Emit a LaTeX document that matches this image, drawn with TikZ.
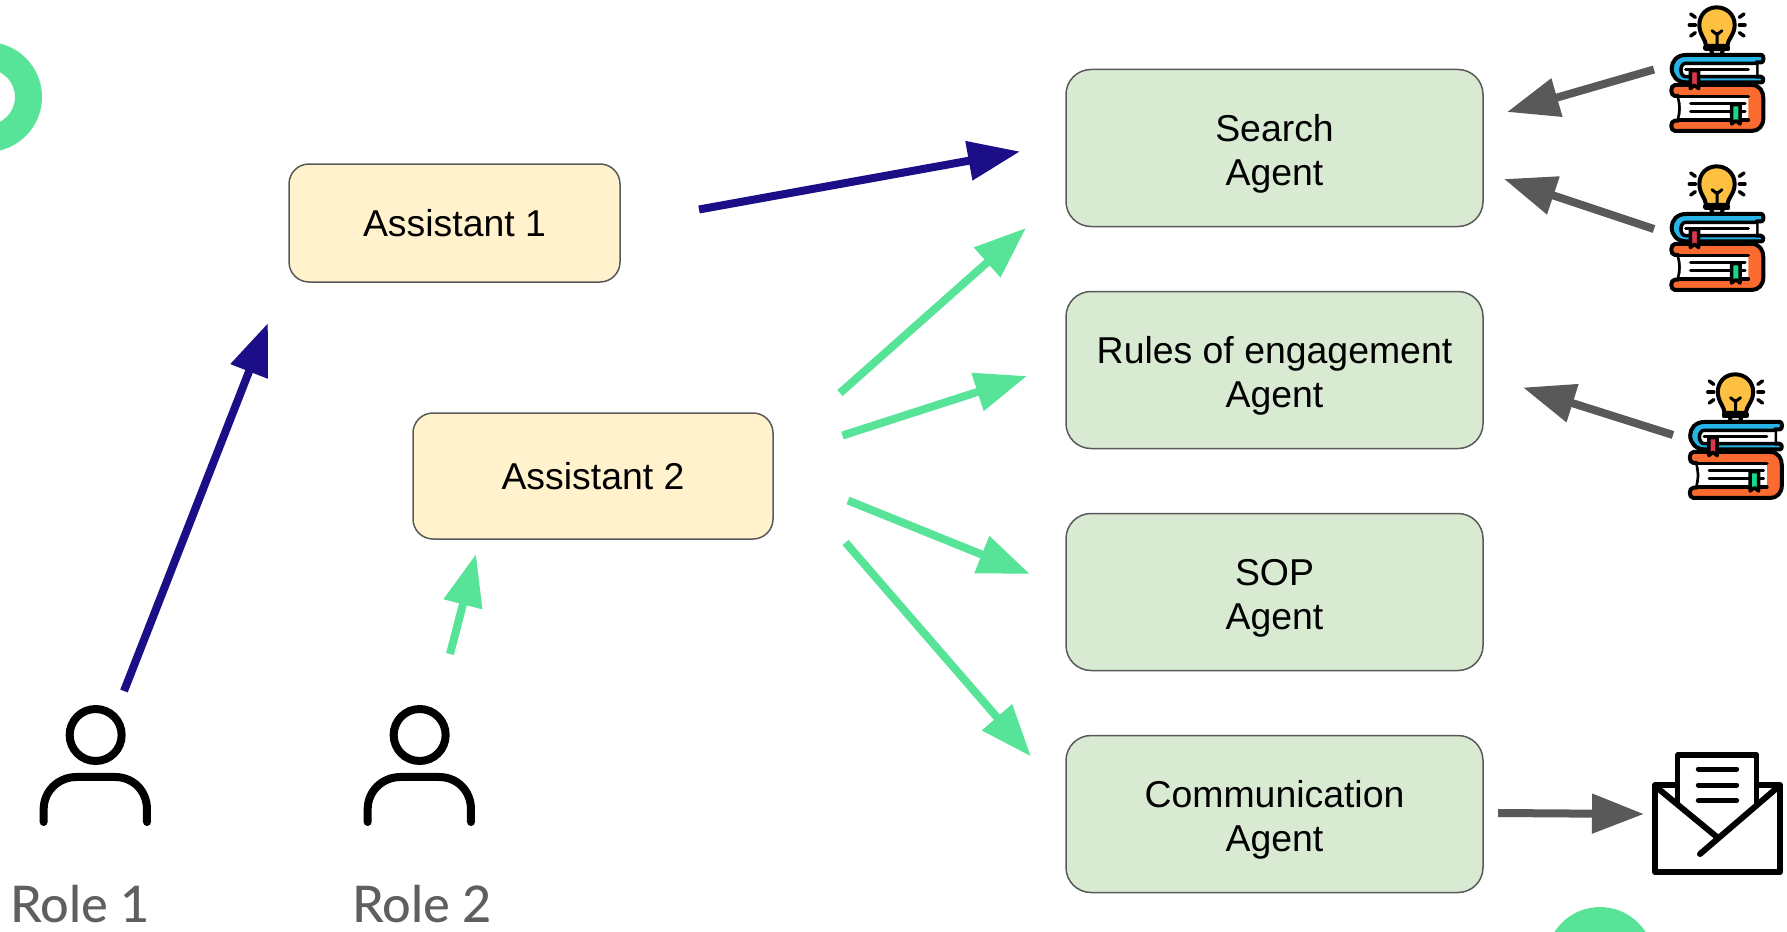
\documentclass[tikz,border=0pt]{standalone}
\usepackage{fontspec}
\setmainfont{Liberation Sans}
\newfontfamily\rolefont{Lato Medium}
\usetikzlibrary{arrows.meta}
\definecolor{mint}{HTML}{58E498}
\definecolor{navyarrow}{HTML}{1B0E87}
\definecolor{greyarrow}{HTML}{595959}
\definecolor{boxgreen}{HTML}{D9EAD3}
\definecolor{boxyellow}{HTML}{FFF2CC}
\definecolor{rolegrey}{HTML}{5F5F5F}
\definecolor{bulby}{HTML}{FDC040}
\definecolor{bookblue}{HTML}{27B3E6}
\definecolor{bookorange}{HTML}{FB6B30}
\definecolor{markred}{HTML}{D8384F}
\definecolor{markgreen}{HTML}{17D98B}
\definecolor{collar}{HTML}{C9D3DE}
\newcommand{\toplift}{\rule{0pt}{37.8pt}}
\tikzset{
  x=1pt,y=-1pt,
  agentbox/.style={draw=greyarrow,line width=1.5pt,rounded corners=25pt,fill=boxgreen,align=center,
    minimum width=417pt,minimum height=157pt,inner sep=0pt,font=\fontsize{37.4pt}{44pt}\selectfont},
  assistbox/.style={draw=greyarrow,line width=1.5pt,rounded corners=20pt,fill=boxyellow,align=center,
    inner sep=0pt,font=\fontsize{37.4pt}{44pt}\selectfont},
  rolelabel/.style={text=rolegrey,inner sep=0pt,anchor=base west,font=\rolefont\fontsize{50.5pt}{52pt}\selectfont},
  flow/.style={line width=8pt},
  navyflow/.style={flow,draw=navyarrow,-{Triangle[length=52pt,width=38pt,fill=navyarrow]}},
  mintflow/.style={flow,draw=mint,-{Triangle[length=52pt,width=38pt,fill=mint]}},
  greyflow/.style={flow,draw=greyarrow,-{Triangle[length=52pt,width=38pt,fill=greyarrow]}},
  iconline/.style={draw=black,line width=4pt,line cap=round,line join=round},
}
\newcommand{\booksicon}[2]{%
\begin{scope}[shift={(#1,#2)},x=.3333pt,y=-.3333pt]
  % bulb rays
  \foreach \ax/\ay/\bx/\by in {212/42/226/52,208/75/226/75,212/108/226/98,372/42/358/52,375/75/358/75,372/108/358/98}
    \draw[iconline,line width=3.5pt] (\ax,\ay) -- (\bx,\by);
  % collar and stem
  \draw[iconline,fill=collar] (272,145) -- (310,145) -- (303,170) -- (279,170) -- cycle;
  % bulb
  \draw[iconline,fill=bulby] (258,138) .. controls (258,118) and (238,105) .. (238,75)
     .. controls (238,42) and (262,22) .. (290,22) .. controls (318,22) and (344,42) .. (344,75)
     .. controls (344,105) and (322,118) .. (322,138) -- cycle;
  \draw[iconline,line width=3pt] (291,140) -- (291,100) (276,92) -- (291,104) -- (306,92);
  \draw[iconline,line width=3.5pt,fill=collar] (255,140) -- (325,140) -- (325,147) -- (255,147) -- cycle;
  % blue book
  \draw[iconline,fill=bookblue] (425,165) -- (197,165) .. controls (170,165) and (155,185) .. (155,205)
     .. controls (155,228) and (172,247) .. (197,247) -- (425,247)
     .. controls (432,247) and (432,230) .. (422,230) -- (410,230) -- (410,187) -- (425,187)
     .. controls (432,187) and (432,165) .. (425,165) -- cycle;
  \fill[white] (197,190) .. controls (178,190) and (178,230) .. (197,230) -- (408,230) -- (408,190) -- cycle;
  \draw[iconline,line width=3.5pt] (197,190) .. controls (178,190) and (178,230) .. (197,230) -- (408,230) (197,190) -- (408,190);
  \draw[iconline,line width=3pt] (197,209) -- (385,209);
  % orange book
  \draw[iconline,fill=bookorange] (165,255) -- (395,255) .. controls (420,255) and (430,275) .. (430,295)
     -- (430,355) .. controls (430,378) and (415,393) .. (395,393) -- (165,393)
     .. controls (150,393) and (150,362) .. (165,362) -- (175,362)
     .. controls (182,335) and (182,315) .. (175,288) -- (165,288)
     .. controls (150,288) and (150,255) .. (165,255) -- cycle;
  \fill[white] (177,290) -- (385,290) -- (385,360) -- (177,360) .. controls (185,335) and (185,315) .. (177,290) -- cycle;
  \draw[iconline,line width=3.5pt] (177,290) -- (385,290) (177,360) -- (385,360);
  \draw[iconline,line width=3pt] (212,312) -- (375,312) (212,336) -- (375,336);
  % bookmarks
  \draw[iconline,line width=3.5pt,fill=markred] (211,212) -- (236,212) -- (236,266) -- (223,256) -- (211,266) -- cycle;
  \draw[iconline,line width=3.5pt,fill=markgreen] (335,314) -- (360,314) -- (360,372) -- (348,362) -- (335,372) -- cycle;
\end{scope}}
\newcommand{\personicon}[2]{%
\begin{scope}[shift={(#1,#2)},x=.3333pt,y=-.3333pt]
  \draw[black,line width=8pt] (287,162) circle[radius=78];
  \draw[black,line width=8pt,line cap=round] (131,423) -- (131,385)
     .. controls (131,330) and (175,288) .. (230,288) -- (345,288)
     .. controls (400,288) and (441,330) .. (441,385) -- (441,423);
\end{scope}}
\begin{document}
\begin{tikzpicture}
\clip (0,0) rectangle (1787,931);
% decorative circles
\fill[mint,even odd rule] (-13,97) circle[radius=55] (-13,97) circle[radius=28];
\fill[mint] (1600,961) circle[radius=54];
% boxes
\node[assistbox,minimum width=331pt,minimum height=118pt] (a1) at (454.5,223) {Assistant 1};
\node[assistbox,minimum width=360pt,minimum height=126pt] (a2) at (593,476) {Assistant 2};
\node[agentbox] (search) at (1274.5,148) {\toplift Search\\Agent};
\node[agentbox] (rules) at (1274.5,370) {\toplift Rules of engagement\\Agent};
\node[agentbox] (sop) at (1274.5,592) {\toplift SOP\\Agent};
\node[agentbox] (comm) at (1274.5,814) {\toplift Communication\\Agent};
% role labels
\node[rolelabel] (r1) at (10,922.5) {Role 1};
\node[rolelabel] (r2) at (352,922.5) {Role 2};
% icons
\personicon{0}{681}
\personicon{324}{681}
\booksicon{1620}{0}
\booksicon{1620}{159}
\booksicon{1638.5}{367}
% envelope
\begin{scope}[shift={(1480,730)},x=.3333pt,y=-.3333pt]
  \draw[black,line width=6pt,line join=round] (525,165) rectangle (900,426);
  \draw[black,line width=5.5pt,line join=round,fill=white] (593,225) -- (593,75) -- (830,75) -- (830,225);
  \draw[black,line width=5pt,line cap=round] (655,117) -- (770,117) (655,165) -- (770,165) (655,212) -- (770,212);
  \draw[black,line width=6pt,line cap=round] (530,172) -- (712,322) (893,172) -- (660,372);
\end{scope}
% connector ends
\coordinate (s1) at (699,209.5);
\coordinate (t1) at (1020,151.5);
\coordinate (s2) at (124,691);
\coordinate (t2) at (268,323);
\coordinate (s3) at (840,393);
\coordinate (t3) at (1026,228);
\coordinate (s4) at (842.5,435.5);
\coordinate (t4) at (1027,376);
\coordinate (s5) at (848,500.5);
\coordinate (t5) at (1030,574);
\coordinate (s6) at (845.5,542.5);
\coordinate (t6) at (1031,756.5);
\coordinate (s7) at (450,654);
\coordinate (t7) at (476,554);
\coordinate (s8) at (1654,69.5);
\coordinate (t8) at (1507,112);
\coordinate (s9) at (1654,229);
\coordinate (t9) at (1504,179);
\coordinate (s10) at (1673,435);
\coordinate (t10) at (1523,387.5);
\coordinate (s11) at (1498,813);
\coordinate (t11) at (1644,814);
\draw[navyflow] (s1) -- (t1);
\draw[navyflow] (s2) -- (t2);
\draw[mintflow] (s3) -- (t3);
\draw[mintflow] (s4) -- (t4);
\draw[mintflow] (s5) -- (t5);
\draw[mintflow] (s6) -- (t6);
\draw[mintflow] (s7) -- (t7);
\draw[greyflow] (s8) -- (t8);
\draw[greyflow] (s9) -- (t9);
\draw[greyflow] (s10) -- (t10);
\draw[greyflow] (s11) -- (t11);
\end{tikzpicture}
\end{document}
